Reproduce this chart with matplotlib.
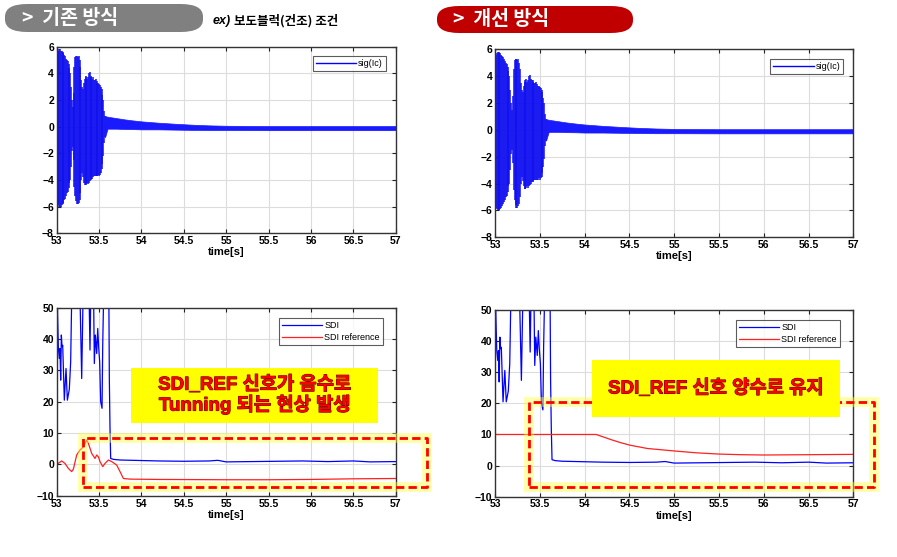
import matplotlib
matplotlib.use("Agg")
import matplotlib.pyplot as plt
import matplotlib.patches as mpatches
import matplotlib.patheffects as pe
import numpy as np

plt.rcParams['font.family'] = ['Liberation Sans', 'Noto Sans CJK KR', 'DejaVu Sans']

# ---- sig(Ic) : burst part, one vertical stroke per sample (min/max)
burst_t = [53.00, 53.01, 53.02, 53.03, 53.04, 53.05, 53.06, 53.07, 53.08, 53.09,
           53.10, 53.11, 53.12, 53.13, 53.14, 53.15, 53.16, 53.17, 53.18, 53.19,
           53.20, 53.21, 53.22, 53.23, 53.24, 53.25, 53.26, 53.27, 53.28, 53.29,
           53.30, 53.31, 53.32, 53.33, 53.34, 53.35, 53.36, 53.37, 53.38, 53.39,
           53.40, 53.41, 53.42, 53.43, 53.44, 53.45, 53.46, 53.47, 53.48, 53.49,
           53.50, 53.51, 53.52, 53.53, 53.54, 53.55, 53.56, 53.57]
burst_hi = [5.5, 5.6, 5.7, 5.8, 5.8, 5.7, 5.7, 5.6, 5.5, 5.4,
            5.3, 5.1, 5.0, 4.9, 4.7, 4.4, 4.0, 3.0, 2.0, 1.5,
            2.5, 4.5, 5.2, 5.3, 5.3, 5.2, 5.3, 5.0, 4.5, 3.5,
            3.0, 2.8, 3.3, 3.6, 3.7, 3.8, 3.6, 3.7, 4.0, 4.1,
            3.8, 3.7, 3.6, 3.7, 3.5, 3.5, 3.6, 3.4, 3.3, 3.3,
            3.2, 3.1, 3.0, 2.8, 2.4, 2.0, 1.2, 0.8]
burst_lo = [-5.0, -5.8, -5.9, -6.0, -6.0, -6.0, -5.9, -5.8, -5.7, -5.5,
            -5.4, -5.2, -5.0, -4.9, -4.6, -4.2, -4.0, -3.0, -1.8, -1.5,
            -2.5, -4.5, -5.2, -5.6, -5.8, -5.8, -5.7, -5.5, -5.0, -4.0,
            -3.5, -3.8, -4.2, -4.4, -4.4, -4.3, -4.2, -4.3, -4.2, -4.1,
            -4.0, -3.9, -3.9, -3.8, -3.7, -3.7, -3.7, -3.7, -3.7, -3.6,
            -3.7, -3.6, -3.5, -3.2, -2.8, -2.2, -1.2, -0.8]
# ---- sig(Ic) : decaying tail envelope
tail_t = [53.57, 53.60, 53.70, 53.80, 53.90, 54.00, 54.20, 54.40, 54.60, 54.80, 55.00, 55.50, 56.00, 56.50, 57.00]
tail_hi = [0.8, 0.75, 0.65, 0.55, 0.47, 0.40, 0.30, 0.22, 0.15, 0.10, 0.07, 0.05, 0.05, 0.05, 0.05]
tail_lo = [-0.8, -0.15, -0.15, -0.17, -0.18, -0.20, -0.20, -0.22, -0.24, -0.25, -0.25, -0.26, -0.26, -0.26, -0.26]

# ---- SDI (same in both runs)
sdi_t = [53.000, 53.020, 53.031, 53.039, 53.047, 53.055, 53.063, 53.071, 53.090, 53.110,
         53.126, 53.149, 53.165, 53.181, 53.270, 53.295, 53.315, 53.378, 53.393, 53.405,
         53.433, 53.444, 53.456, 53.472, 53.484, 53.496, 53.507, 53.519, 53.535, 53.543,
         53.558, 53.614, 53.621, 53.629, 53.637, 53.670, 53.750, 53.900, 54.200, 54.500,
         54.800, 54.900, 55.000, 55.300, 55.600, 55.900, 56.200, 56.500, 56.700, 57.000]
sdi_v = [60, 37, 33.8, 37, 26.9, 41.3, 37.6, 38, 20.5, 30.6,
         20.5, 24, 32.8, 60, 60, 27.4, 60, 60, 36.5, 60,
         60, 32.2, 41.3, 35.4, 43.4, 37, 32.8, 20, 17.9, 38,
         60, 60, 27.4, 11.5, 1.9, 1.6, 1.4, 1.3, 1.1, 1.0,
         1.1, 1.3, 0.8, 0.9, 1.0, 1.1, 0.9, 1.1, 0.8, 0.9]

# ---- SDI reference, existing method (goes negative)
ref1_t = [53.000, 53.059, 53.098, 53.138, 53.177, 53.197, 53.236, 53.275, 53.315, 53.354,
          53.374, 53.413, 53.452, 53.472, 53.492, 53.511, 53.543, 53.570, 53.610, 53.649,
          53.708, 53.747, 53.787, 53.865, 54.200, 55.000, 55.500, 56.000, 56.500, 57.000]
ref1_v = [0, 1.1, 0.3, -1.3, -2.3, -1.5, 3.0, 4.6, 5.6, 7.8,
          6.7, 3.5, 1.9, 3.0, 2.4, 0.9, -0.7, 0.3, 1.4, 0.9,
          -0.2, -2.3, -4.5, -4.7, -4.8, -4.9, -4.9, -4.8, -4.6, -4.5]

# ---- SDI reference, improved method (stays positive)
ref2_t = [53.0, 54.13, 54.2, 54.3, 54.4, 54.5, 54.7, 55.0, 55.25, 55.5, 55.75, 56.0, 56.5, 57.0]
ref2_v = [10, 10, 9.3, 8.3, 7.4, 6.6, 5.5, 4.7, 4.1, 3.7, 3.5, 3.4, 3.5, 3.6]

xticks = [53, 53.5, 54, 54.5, 55, 55.5, 56, 56.5, 57]
xlabels = ["53", "53.5", "54", "54.5", "55", "55.5", "56", "56.5", "57"]

BLUE = '#0000ff'
RED = '#ff2020'

fig = plt.figure(figsize=(8.97, 5.57), dpi=100)
fig.patch.set_facecolor('white')


def style_axes(ax, ylim, yticks):
    ax.set_xlim(53, 57)
    ax.set_ylim(*ylim)
    ax.set_xticks(xticks)
    ax.set_xticklabels(xlabels)
    ax.set_yticks(yticks)
    ax.tick_params(direction='in', length=3, width=0.8, top=True, right=True,
                   labelsize=7.5, pad=2, colors='#222222')
    for lab in ax.get_xticklabels() + ax.get_yticklabels():
        lab.set_fontweight('bold')
        lab.set_color('black')
    for sp in ax.spines.values():
        sp.set_color('#333333')
        sp.set_linewidth(1.0)
    ax.grid(True, color='#dcdcdc', linewidth=0.8)
    ax.set_axisbelow(True)
    ax.set_xlabel("time[s]", fontsize=8, fontweight='bold', labelpad=1)


def sig_plot(rect):
    ax = fig.add_axes(rect)
    ax.vlines(burst_t, burst_lo, burst_hi, color='#1010f0', linewidth=1.1)
    ax.fill_between(tail_t, tail_lo, tail_hi, color='#1a1aff', linewidth=0.5)
    ax.plot([], [], color=BLUE, linewidth=1, label='sig(Ic)')
    style_axes(ax, (-8, 6), [-8, -6, -4, -2, 0, 2, 4, 6])
    leg = ax.legend(loc='upper right', fontsize=6.5, frameon=True, fancybox=False,
                    borderpad=0.35, handlelength=4.5, handletextpad=0.2,
                    bbox_to_anchor=(0.985, 0.975))
    leg.get_frame().set_edgecolor('#333333')
    leg.get_frame().set_linewidth(0.8)
    return ax


def sdi_plot(rect, ref_t, ref_v):
    ax = fig.add_axes(rect)
    ax.plot(sdi_t, sdi_v, color=BLUE, linewidth=0.9, label='SDI')
    ax.plot(ref_t, ref_v, color=RED, linewidth=0.9, label='SDI reference')
    style_axes(ax, (-10, 50), [-10, 0, 10, 20, 30, 40, 50])
    leg = ax.legend(loc='upper right', fontsize=6.5, frameon=True, fancybox=False,
                    borderpad=0.35, handlelength=4.5, handletextpad=0.2,
                    labelspacing=0.3, bbox_to_anchor=(0.975, 0.97))
    leg.get_frame().set_edgecolor('#333333')
    leg.get_frame().set_linewidth(0.8)
    return ax


ax_tl = sig_plot([0.0632, 0.5811, 0.378, 0.335])
ax_tr = sig_plot([0.5518, 0.574, 0.3995, 0.3375])
ax_bl = sdi_plot([0.0632, 0.110, 0.378, 0.3375], ref1_t, ref1_v)
ax_br = sdi_plot([0.5518, 0.1083, 0.3995, 0.335], ref2_t, ref2_v)


def dashed_box(ax, x0, x1, y0, y1):
    xs = [x0, x1, x1, x0, x0]
    ys = [y0, y0, y1, y1, y0]
    ax.plot(xs, ys, color='#ffff40', linewidth=7, alpha=0.45, clip_on=False,
            solid_joinstyle='miter', zorder=5)
    ax.plot(xs, ys, color='#ff0000', linewidth=2, linestyle=(0, (3, 1.5)),
            clip_on=False, zorder=6)


def callout(ax, x0, x1, y0, y1, text):
    ax.add_patch(mpatches.Rectangle((x0, y0), x1 - x0, y1 - y0, facecolor='#ffff00',
                                    edgecolor='none', clip_on=False, zorder=7))
    t = ax.text((x0 + x1) / 2, (y0 + y1) / 2, text, ha='center', va='center',
                fontsize=13.5, fontweight='bold', color='#ff0000', linespacing=1.05,
                family=['Liberation Sans', 'Noto Sans CJK KR'], zorder=8)
    t.set_path_effects([pe.withStroke(linewidth=0.7, foreground='#600000')])


dashed_box(ax_bl, 53.31, 57.37, -7.3, 8.5)
callout(ax_bl, 53.88, 56.79, 13.3, 30.9, "SDI_REF 신호가 음수로\nTunning 되는 현상 발생")
dashed_box(ax_br, 53.38, 57.23, -7.0, 20.5)
callout(ax_br, 54.08, 56.85, 15.7, 33.9, "SDI_REF 신호 양수로 유지")

# ---- header bars
W, H = 897.0, 557.0
fig.patches.append(mpatches.FancyBboxPatch((5 / W, 1 - 32 / H), 198 / W, 28 / H,
                                           boxstyle="round,pad=0,rounding_size=0.025",
                                           facecolor='#808080', edgecolor='none',
                                           transform=fig.transFigure, mutation_aspect=0.9))
fig.patches.append(mpatches.FancyBboxPatch((437 / W, 1 - 33 / H), 196 / W, 27 / H,
                                           boxstyle="round,pad=0,rounding_size=0.025",
                                           facecolor='#c00000', edgecolor='none',
                                           transform=fig.transFigure, mutation_aspect=0.9))
fig.text(22 / W, 1 - 18 / H, ">  기존 방식", color='white', fontsize=14, fontweight='bold',
         va='center', ha='left', family=['Noto Sans CJK KR', 'DejaVu Sans'])
fig.text(453 / W, 1 - 19.5 / H, ">  개선 방식", color='white', fontsize=14, fontweight='bold',
         va='center', ha='left', family=['Noto Sans CJK KR', 'DejaVu Sans'])
fig.text(213 / W, 1 - 21 / H, "ex)", color='black', fontsize=9, fontweight='bold',
         style='italic', va='center', ha='left')
fig.text(234 / W, 1 - 21 / H, "보도블럭(건조) 조건", color='black', fontsize=9, fontweight='bold',
         va='center', ha='left', family=['Noto Sans CJK KR', 'DejaVu Sans'])

fig.savefig("out.png", dpi=100)
